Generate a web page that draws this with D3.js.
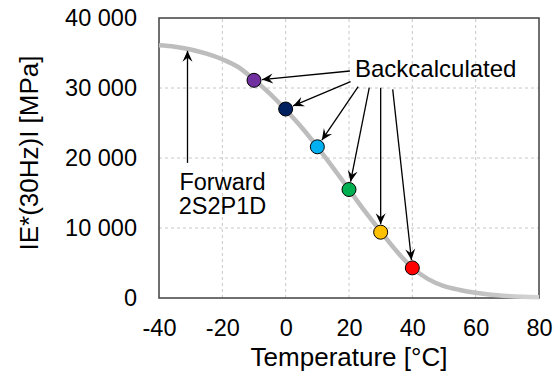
<!DOCTYPE html>
<html>
<head>
<meta charset="utf-8">
<script src="https://cdn.jsdelivr.net/npm/d3@7"></script>
<style>
  html, body { margin: 0; padding: 0; background: #fff; }
  svg { display: block; font-family: "Liberation Sans", Arial, sans-serif; }
</style>
</head>
<body>
<svg id="chart" width="559" height="373"></svg>
<script>
// ---- data ----
const curveT = [-40,-35,-30,-25,-20,-15,-10,-5,0,5,10,15,20,25,30,35,40,45,50,55,60,65,70,75,80];
const curveE = [36100,35900,35500,34900,34100,33000,31200,29200,26900,24400,21600,18600,15500,12400,9500,6700,4300,2700,1700,1150,750,470,290,170,100];
const pointT = [-10, 0, 10, 20, 30, 40];
const pointE = [31100, 27000, 21600, 15500, 9400, 4300];
const pointColors = ["#7030A0", "#002060", "#00B0F0", "#00B050", "#FFC000", "#FF0000"];
// arrow tails (data coordinates) for "Backcalculated" arrows
const tailT = [20.3, 20.5, 22.9, 26.4, 30.0, 33.8];
const tailE = [32430, 30900, 30190, 30040, 30040, 29810];
// forward arrow (data coordinates)
const fwdT = [-31, -31];
const fwdE = [19300, 35450];
const xTicks = [-40, -20, 0, 20, 40, 60, 80];
const yTicks = [0, 10000, 20000, 30000, 40000];
const xTitle = "Temperature [°C]";
const yTitle = "IE*(30Hz)I [MPa]";
const backLabel = "Backcalculated";
const fwdLabel = ["Forward", "2S2P1D"];

// ---- chart ----
const svg = d3.select("#chart");
const x = d3.scaleLinear().domain([-40, 80]).range([159, 539]);
const y = d3.scaleLinear().domain([0, 40000]).range([298, 18]);
const fmtY = v => v === 0 ? "0" : d3.format(",")(v).replace(/,/g, " ");
const fmtX = v => String(v);

// grid
const grid = svg.append("g").attr("stroke", "#c8c8c8").attr("stroke-width", 1).attr("stroke-dasharray", "3,3");
xTicks.filter(t => t > -40 && t < 80).forEach(t => {
  grid.append("line").attr("x1", x(t)).attr("x2", x(t)).attr("y1", y(0)).attr("y2", y(40000));
});
yTicks.filter(t => t > 0 && t < 40000).forEach(t => {
  grid.append("line").attr("x1", x(-40)).attr("x2", x(80)).attr("y1", y(t)).attr("y2", y(t));
});

// frame
svg.append("rect").attr("x", x(-40)).attr("y", y(40000))
  .attr("width", x(80) - x(-40)).attr("height", y(0) - y(40000))
  .attr("fill", "none").attr("stroke", "#404040").attr("stroke-width", 1.5);

// axes (labels only)
const xAxis = d3.axisBottom(x).tickValues(xTicks).tickFormat(fmtX).tickSize(0).tickPadding(0);
const gx = svg.append("g").attr("transform", `translate(0,${y(0)})`).call(xAxis);
gx.select(".domain").remove();
gx.selectAll("text").attr("font-size", "23.5px").attr("fill", "#000")
  .attr("font-family", "Liberation Sans, Arial, sans-serif").attr("dy", null).attr("y", 38);

const yAxis = d3.axisLeft(y).tickValues(yTicks).tickFormat(fmtY).tickSize(0).tickPadding(22);
const gy = svg.append("g").attr("transform", `translate(${x(-40)},0)`).call(yAxis);
gy.select(".domain").remove();
gy.selectAll("text").attr("font-size", "23.5px").attr("fill", "#000")
  .attr("font-family", "Liberation Sans, Arial, sans-serif");

// titles
svg.append("text").attr("x", (x(-40) + x(80)) / 2).attr("y", 366)
  .attr("text-anchor", "middle").attr("font-size", "26px").text(xTitle);
svg.append("text").attr("transform", `translate(38,${(y(0) + y(40000)) / 2 - 5}) rotate(-90)`)
  .attr("text-anchor", "middle").attr("font-size", "26px").text(yTitle);

// curve
const curvePts = curveT.map((t, i) => [t, curveE[i]]);
const defs = svg.append("defs");
const grad = defs.append("linearGradient").attr("id", "cg")
  .attr("gradientUnits", "userSpaceOnUse").attr("x1", x(-40)).attr("x2", x(80)).attr("y1", 0).attr("y2", 0);
grad.append("stop").attr("offset", "0%").attr("stop-color", "#bdbdbd");
grad.append("stop").attr("offset", "80%").attr("stop-color", "#bdbdbd");
grad.append("stop").attr("offset", "100%").attr("stop-color", "#d4d4d4");
svg.append("path").datum(curvePts)
  .attr("d", d3.line().x(d => x(d[0])).y(d => y(d[1])).curve(d3.curveMonotoneX))
  .attr("fill", "none").attr("stroke", "url(#cg)").attr("stroke-width", 4.5).attr("stroke-linecap", "butt");

// arrow marker
defs.append("marker").attr("id", "ah").attr("viewBox", "-12 -6 13 12")
  .attr("refX", 0).attr("refY", 0).attr("markerWidth", 13).attr("markerHeight", 12)
  .attr("markerUnits", "userSpaceOnUse").attr("orient", "auto")
  .append("path").attr("d", "M0,0 L-11,-5 L-7,0 L-11,5 Z").attr("fill", "#000");

const r = 7;
// backcalculated arrows
const arrows = svg.append("g");
pointT.forEach((t, i) => {
  const x0 = x(tailT[i]), y0 = y(tailE[i]);
  const x1 = x(t), y1 = y(pointE[i]);
  const dx = x1 - x0, dy = y1 - y0, L = Math.hypot(dx, dy);
  const k = (L - r - 1) / L;
  arrows.append("line").attr("x1", x0).attr("y1", y0)
    .attr("x2", x0 + dx * k).attr("y2", y0 + dy * k)
    .attr("stroke", "#000").attr("stroke-width", 1.3).attr("marker-end", "url(#ah)");
});
// forward arrow
arrows.append("line").attr("x1", x(fwdT[0])).attr("y1", y(fwdE[0]))
  .attr("x2", x(fwdT[1])).attr("y2", y(fwdE[1]) + 1)
  .attr("stroke", "#000").attr("stroke-width", 1.3).attr("marker-end", "url(#ah)");

// points
svg.append("g").selectAll("circle").data(pointT).join("circle")
  .attr("cx", d => x(d)).attr("cy", (d, i) => y(pointE[i])).attr("r", r)
  .attr("fill", (d, i) => pointColors[i]).attr("stroke", "#000").attr("stroke-width", 1);

// annotations
svg.append("text").attr("x", 355).attr("y", 77).attr("font-size", "24px").text(backLabel);
svg.append("text").attr("x", 222.5).attr("y", 189.5).attr("text-anchor", "middle")
  .attr("font-size", "23.5px").text(fwdLabel[0]);
svg.append("text").attr("x", 222.5).attr("y", 213.5).attr("text-anchor", "middle")
  .attr("font-size", "23.5px").text(fwdLabel[1]);
</script>
</body>
</html>
